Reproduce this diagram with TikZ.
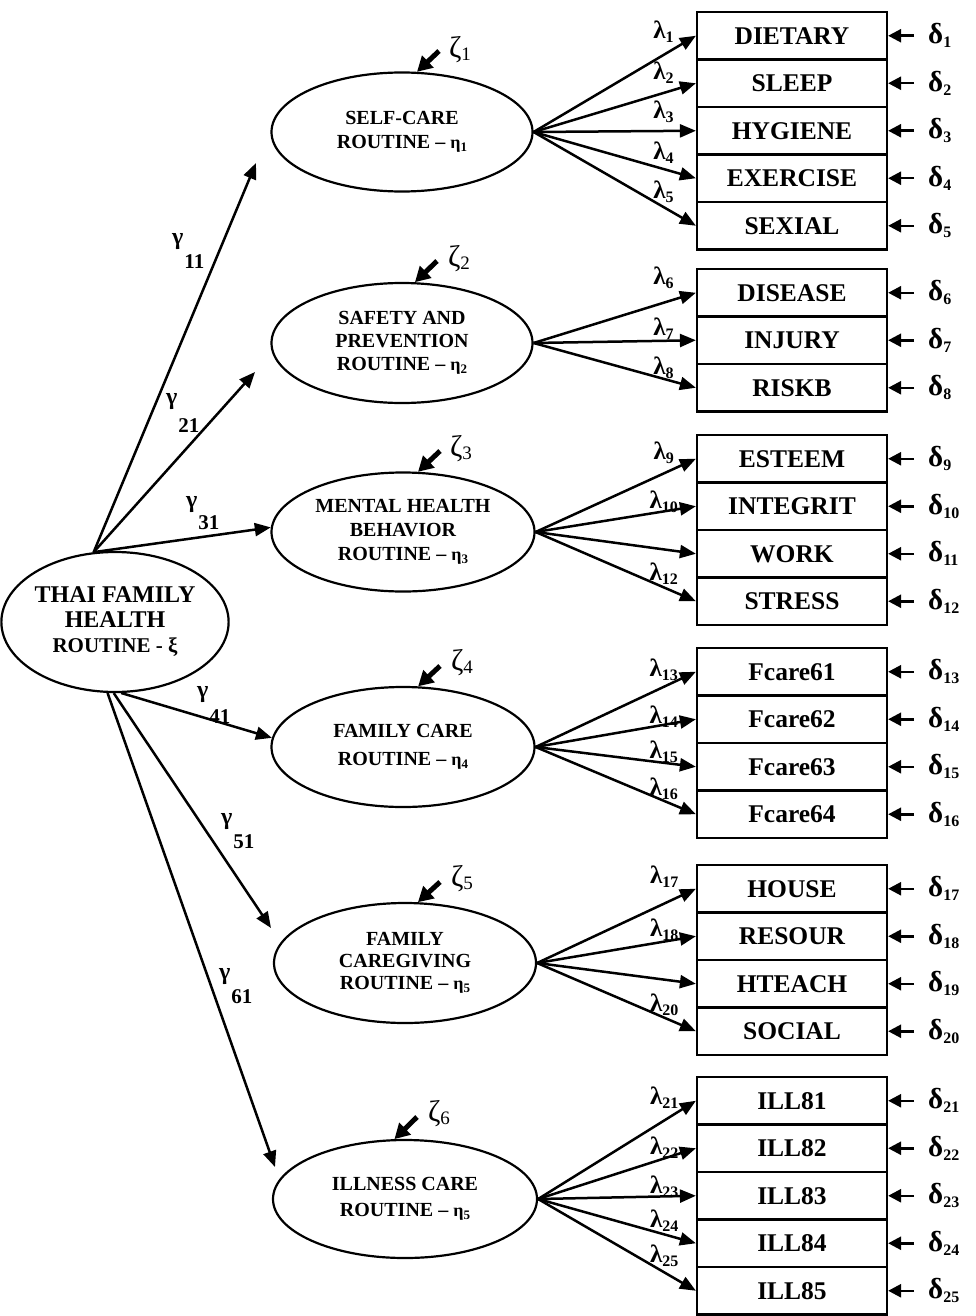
\documentclass[tikz,border=0pt]{standalone}
\usepackage{fontspec}
\setmainfont{Liberation Serif}
\usetikzlibrary{shapes.geometric,arrows.meta}
\newcommand\lsub[1]{\raisebox{-4pt}{\fontsize{16}{16}\selectfont#1}}
\newcommand\zsub[1]{\raisebox{-3pt}{\fontsize{19}{19}\selectfont#1}}
\newcommand\esub[1]{{\fontsize{18}{18}\selectfont η\raisebox{-3pt}{\fontsize{13}{13}\selectfont#1}}}
\newcommand\gam[2]{γ\kern1pt\raisebox{-#1pt}{\fontsize{21}{21}\selectfont #2}}
\begin{document}
\begin{tikzpicture}[x=1pt,y=-1pt,
  lat/.style={ellipse, draw, line width=2.2pt, inner sep=0pt, align=center, font=\fontsize{20}{24}\selectfont\bfseries},
  obs/.style={rectangle, draw, line width=2.2pt, minimum width=190pt, minimum height=47.5pt, inner sep=0pt, font=\fontsize{25.5}{25.5}\selectfont\bfseries},
  arr/.style={-{Triangle[length=16pt,width=13pt]}, line width=2.5pt},
  darr/.style={-{Triangle[length=13pt,width=13pt]}, line width=2.5pt, shorten <=14pt},
  zarr/.style={-{Triangle[length=15pt,width=16pt]}, line width=5pt},
  lam/.style={font=\fontsize{25}{25}\selectfont\bfseries, inner sep=0pt, pos=0.8},
  dlab/.style={font=\fontsize{29}{29}\selectfont\bfseries, inner sep=0pt, anchor=west},
  zlab/.style={font=\fontsize{30}{30}\selectfont, inner sep=0pt},
  glab/.style={font=\fontsize{24}{24}\selectfont\bfseries, inner sep=0pt, anchor=base west},
]
\useasboundingbox (0,0) rectangle (975,1316);

% latent variables
\node[lat, minimum width=214pt, minimum height=140pt, font=\fontsize{24}{25}\selectfont\bfseries] (xi) at (115,622)
  {THAI FAMILY\\HEALTH\\\fontsize{21}{26}\selectfont ROUTINE - ξ};
\node[lat, minimum width=261pt, minimum height=119pt] (eta1) at (402,132) {SELF-CARE\\ROUTINE – \esub{1}};
\node[lat, minimum width=261pt, minimum height=120pt, font=\fontsize{20}{23}\selectfont\bfseries] (eta2) at (402,343) {SAFETY AND\\PREVENTION\\ROUTINE – \esub{2}};
\node[lat, minimum width=263pt, minimum height=119pt, font=\fontsize{20}{24}\selectfont\bfseries] (eta3) at (403,532) {MENTAL HEALTH\\BEHAVIOR\\ROUTINE – \esub{3}};
\node[lat, minimum width=263pt, minimum height=120pt, font=\fontsize{20}{28}\selectfont\bfseries] (eta4) at (403,747) {FAMILY CARE\\ROUTINE – \esub{4}};
\node[lat, minimum width=262pt, minimum height=120pt, font=\fontsize{20}{22}\selectfont\bfseries] (eta5) at (405,963) {FAMILY\\CAREGIVING\\ROUTINE – \esub{5}};
\node[lat, minimum width=264pt, minimum height=118pt, font=\fontsize{20}{26}\selectfont\bfseries] (eta6) at (405,1199) {ILLNESS CARE\\ROUTINE – \esub{5}};

% observed variables
\node[obs] (r1) at (792,35.75) {DIETARY};
\node[obs] (r2) at (792,83.25) {SLEEP};
\node[obs] (r3) at (792,130.75) {HYGIENE};
\node[obs] (r4) at (792,178.25) {EXERCISE};
\node[obs] (r5) at (792,225.75) {SEXIAL};
\node[obs] (r6) at (792,292.75) {DISEASE};
\node[obs] (r7) at (792,340.25) {INJURY};
\node[obs] (r8) at (792,387.75) {RISKB};
\node[obs] (r9) at (792,458.75) {ESTEEM};
\node[obs] (r10) at (792,506.25) {INTEGRIT};
\node[obs] (r11) at (792,553.75) {WORK};
\node[obs] (r12) at (792,601.25) {STRESS};
\node[obs] (r13) at (792,671.75) {Fcare61};
\node[obs] (r14) at (792,719.25) {Fcare62};
\node[obs] (r15) at (792,766.75) {Fcare63};
\node[obs] (r16) at (792,814.25) {Fcare64};
\node[obs] (r17) at (792,888.75) {HOUSE};
\node[obs] (r18) at (792,936.25) {RESOUR};
\node[obs] (r19) at (792,983.75) {HTEACH};
\node[obs] (r20) at (792,1031.25) {SOCIAL};
\node[obs] (r21) at (792,1100.75) {ILL81};
\node[obs] (r22) at (792,1148.25) {ILL82};
\node[obs] (r23) at (792,1195.75) {ILL83};
\node[obs] (r24) at (792,1243.25) {ILL84};
\node[obs] (r25) at (792,1290.75) {ILL85};

% loadings
\draw[arr] (eta1.east) -- (r1.west) node[lam, yshift=23pt] {λ\lsub{1}};
\draw[arr] (eta1.east) -- (r2.west) node[lam, yshift=20pt] {λ\lsub{2}};
\draw[arr] (eta1.east) -- (r3.west) node[lam, yshift=19pt] {λ\lsub{3}};
\draw[arr] (eta1.east) -- (r4.west) node[lam, yshift=16pt] {λ\lsub{4}};
\draw[arr] (eta1.east) -- (r5.west) node[lam, yshift=15pt] {λ\lsub{5}};
\draw[arr] (eta2.east) -- (r6.west) node[lam, yshift=25pt] {λ\lsub{6}};
\draw[arr] (eta2.east) -- (r7.west) node[lam, yshift=12pt] {λ\lsub{7}};
\draw[arr] (eta2.east) -- (r8.west) node[lam, yshift=11pt] {λ\lsub{8}};
\draw[arr] (eta3.east) -- (r9.west) node[lam, yshift=21pt] {λ\lsub{9}};
\draw[arr] (eta3.east) -- (r10.west) node[lam, yshift=10pt] {λ\lsub{10}};
\draw[arr] (eta3.east) -- (r11.west);
\draw[arr] (eta3.east) -- (r12.west) node[lam, yshift=14pt] {λ\lsub{12}};
\draw[arr] (eta4.east) -- (r13.west) node[lam, yshift=17pt] {λ\lsub{13}};
\draw[arr] (eta4.east) -- (r14.west) node[lam, yshift=8pt] {λ\lsub{14}};
\draw[arr] (eta4.east) -- (r15.west) node[lam, yshift=11pt] {λ\lsub{15}};
\draw[arr] (eta4.east) -- (r16.west) node[lam, yshift=12pt] {λ\lsub{16}};
\draw[arr] (eta5.east) -- (r17.west) node[lam, yshift=27pt] {λ\lsub{17}};
\draw[arr] (eta5.east) -- (r18.west) node[lam, yshift=12pt] {λ\lsub{18}};
\draw[arr] (eta5.east) -- (r19.west);
\draw[arr] (eta5.east) -- (r20.west) node[lam, yshift=13pt] {λ\lsub{20}};
\draw[arr] (eta6.east) -- (r21.west) node[lam, yshift=23pt] {λ\lsub{21}};
\draw[arr] (eta6.east) -- (r22.west) node[lam, yshift=11pt] {λ\lsub{22}};
\draw[arr] (eta6.east) -- (r23.west) node[lam, yshift=10pt] {λ\lsub{23}};
\draw[arr] (eta6.east) -- (r24.west) node[lam, yshift=14pt] {λ\lsub{24}};
\draw[arr] (eta6.east) -- (r25.west) node[lam, yshift=17pt] {λ\lsub{25}};

% errors
\foreach \i/\y in {1/35.75,2/83.25,3/130.75,4/178.25,5/225.75,6/292.75,7/340.25,8/387.75,
  9/458.75,10/506.25,11/553.75,12/601.25,13/671.75,14/719.25,15/766.75,16/814.25,
  17/888.75,18/936.25,19/983.75,20/1031.25,21/1100.75,22/1148.25,23/1195.75,24/1243.25,25/1290.75}{
  \node[dlab] (d\i) at (928,\y) {δ\lsub{\i}};
  \draw[darr] (d\i.west) -- (r\i.east);
}

% disturbances
\coordinate (zt1) at (439,51);   \node[zlab] (z1) at (460,50) {ζ\zsub{1}};
\coordinate (zt2) at (437,261);  \node[zlab] (z2) at (459,259) {ζ\zsub{2}};
\coordinate (zt3) at (440,451);  \node[zlab] (z3) at (461,449) {ζ\zsub{3}};
\coordinate (zt4) at (440,666);  \node[zlab] (z4) at (462,663) {ζ\zsub{4}};
\coordinate (zt5) at (440,882);  \node[zlab] (z5) at (462,879) {ζ\zsub{5}};
\coordinate (zt6) at (417,1117); \node[zlab] (z6) at (439,1114) {ζ\zsub{6}};
\draw[zarr] (zt1) -- (eta1.76);
\draw[zarr] (zt2) -- (eta2.78);
\draw[zarr] (zt3) -- (eta3.76);
\draw[zarr] (zt4) -- (eta4.76);
\draw[zarr] (zt5) -- (eta5.78);
\draw[zarr] (zt6) -- (eta6.100);

% structural paths
\coordinate (t11) at (256,163);
\coordinate (t21) at (255,372);
\coordinate (t51) at (271,928);
\coordinate (t61) at (275,1167);
\draw[arr] (xi.107) -- (t11);
\draw[arr] (xi.107) -- (t21);
\draw[arr] (xi.107) -- (eta3.178);
\draw[arr] (xi.275) -- (eta4.176);
\draw[arr] (xi.269) -- (t51);
\draw[arr] (xi.264) -- (t61);

\node[glab] (g11) at (172,244) {\gam{24}{11}};
\node[glab] (g21) at (166,404) {\gam{28}{21}};
\node[glab] (g31) at (186,507) {\gam{22}{31}};
\node[glab] (g41) at (197,697) {\gam{26}{41}};
\node[glab] (g51) at (221,824) {\gam{24}{51}};
\node[glab] (g61) at (219,979) {\gam{24}{61}};
\end{tikzpicture}
\end{document}
